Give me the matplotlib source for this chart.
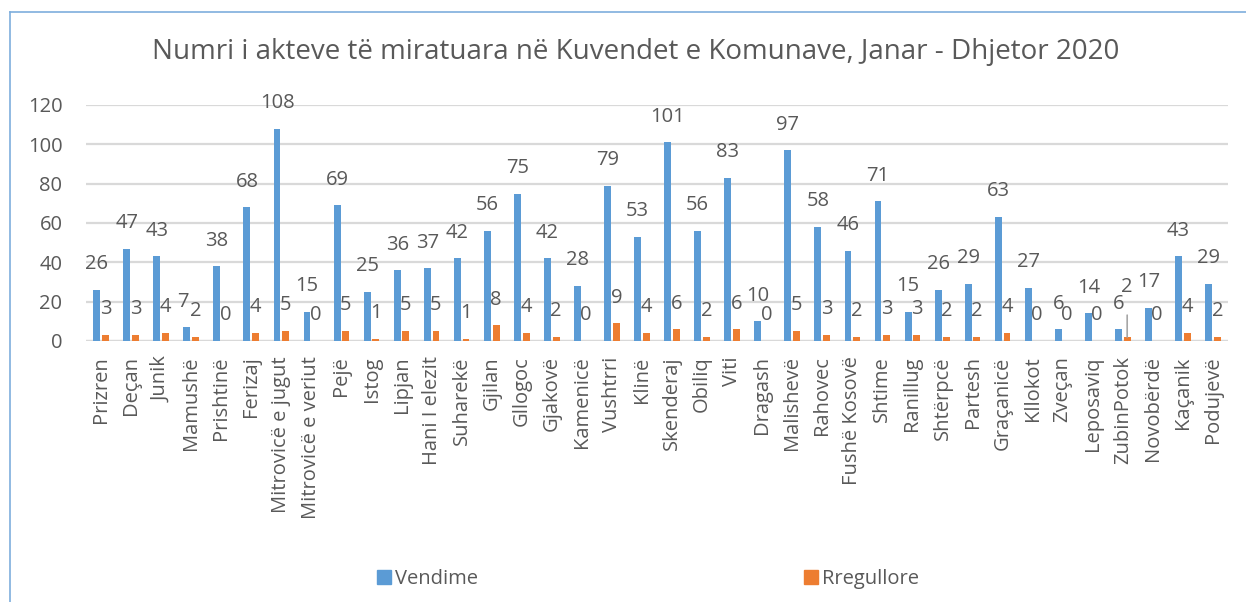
import matplotlib
matplotlib.use("Agg")
import matplotlib.pyplot as plt
from matplotlib.lines import Line2D
from matplotlib.patches import Patch
import numpy as np

plt.rcParams["font.family"] = ["Open Sans", "DejaVu Sans"]

# --- data ---
komunat = [
    "Prizren", "Deçan", "Junik", "Mamushë", "Prishtinë", "Ferizaj",
    "Mitrovicë e jugut", "Mitrovicë e veriut", "Pejë", "Istog", "Lipjan",
    "Hani I elezit", "Suharekë", "Gjilan", "Gllogoc", "Gjakovë", "Kamenicë",
    "Vushtrri", "Klinë", "Skenderaj", "Obiliq", "Viti", "Dragash",
    "Malishevë", "Rahovec", "Fushë Kosovë", "Shtime", "Ranillug", "Shtërpcë",
    "Partesh", "Graçanicë", "Kllokot", "Zveçan", "Leposaviq", "ZubinPotok",
    "Novobërdë", "Kaçanik", "Podujevë",
]
vendime = [26, 47, 43, 7, 38, 68, 108, 15, 69, 25, 36, 37, 42, 56, 75, 42, 28,
           79, 53, 101, 56, 83, 10, 97, 58, 46, 71, 15, 26, 29, 63, 27, 6, 14,
           6, 17, 43, 29]
rregullore = [3, 3, 4, 2, 0, 4, 5, 0, 5, 1, 5, 5, 1, 8, 4, 2, 0, 9, 4, 6, 2, 6,
              0, 5, 3, 2, 3, 3, 2, 2, 4, 0, 0, 0, 2, 0, 4, 2]
seria = ["Vendime", "Rregullore"]
yticks = [0, 20, 40, 60, 80, 100, 120]

BLUE = "#5B9BD5"
ORANGE = "#ED7D31"
TXT = "#595959"
GRID = "#D9D9D9"

W, H = 1246, 602
fig = plt.figure(figsize=(W / 100, H / 100), dpi=100)
ax = fig.add_axes([86 / W, 1 - 341 / H, (1228 - 86) / W, (341 - 105) / H])

x = np.arange(len(komunat))
bw = 0.23
off = 0.145
ax.bar(x - off, vendime, bw, color=BLUE, zorder=3)
ax.bar(x + off, rregullore, bw, color=ORANGE, zorder=3)

# data labels above each bar
for i, (xi, v) in enumerate(zip(x, vendime)):
    dx = -2.5 if komunat[i] == "Mamushë" else 0  # small nudge, "7" sits against "2"
    ax.annotate(str(v), (xi - off, v), xytext=(dx, 18.5), textcoords="offset points",
                ha="center", va="center", fontsize=14.5, color=TXT)
for i, (xi, v) in enumerate(zip(x, rregullore)):
    if komunat[i] == "ZubinPotok":
        # label moved up with a leader line
        ax.annotate(str(v), (xi + off, v), xytext=(0, 36), textcoords="offset points",
                    ha="center", va="center", fontsize=14.5, color=TXT,
                    arrowprops=dict(arrowstyle="-", color="#A6A6A6", lw=1.2,
                                    shrinkA=11, shrinkB=0))
        continue
    ax.annotate(str(v), (xi + off, v), xytext=(0, 18.5), textcoords="offset points",
                ha="center", va="center", fontsize=14.5, color=TXT)

ax.set_xlim(-0.5, len(komunat) - 0.5)
ax.set_ylim(0, 120)
ax.set_yticks(yticks)
ax.set_xticks(x)
ax.set_xticklabels(komunat, rotation=90, fontsize=14.5, color=TXT)
ax.tick_params(axis="x", length=0, pad=11)
ax.tick_params(axis="y", length=0, pad=17, labelsize=14.5, labelcolor=TXT)
ax.yaxis.grid(True, color=GRID, lw=1.6, zorder=0)
for s in ax.spines.values():
    s.set_visible(False)
ax.axhline(0, color=GRID, lw=1.6, zorder=2)

fig.text(636 / W, 1 - 52 / H,
         "Numri i akteve të miratuara në Kuvendet e Komunave, Janar - Dhjetor 2020",
         ha="center", va="center", fontsize=20, color=TXT)

handles = [Patch(color=BLUE), Patch(color=ORANGE)]
fig.legend(handles, seria, loc="center left", bbox_to_anchor=(377 / W, 1 - 579 / H),
           ncol=2, frameon=False, fontsize=14.5, labelcolor=TXT, borderpad=0,
           borderaxespad=0, handlelength=0.7, handleheight=0.7, handletextpad=0.2,
           columnspacing=16.2)

# chart border (left and top edges are visible)
bc = "#7EAEDD"
fig.add_artist(Line2D([10 / W, 10 / W], [0, 1 - 12 / H], color=bc, lw=1.2,
                      transform=fig.transFigure))
fig.add_artist(Line2D([10 / W, 1], [1 - 12 / H, 1 - 12 / H], color=bc, lw=1.2,
                      transform=fig.transFigure))

fig.savefig("out.png", dpi=100)
